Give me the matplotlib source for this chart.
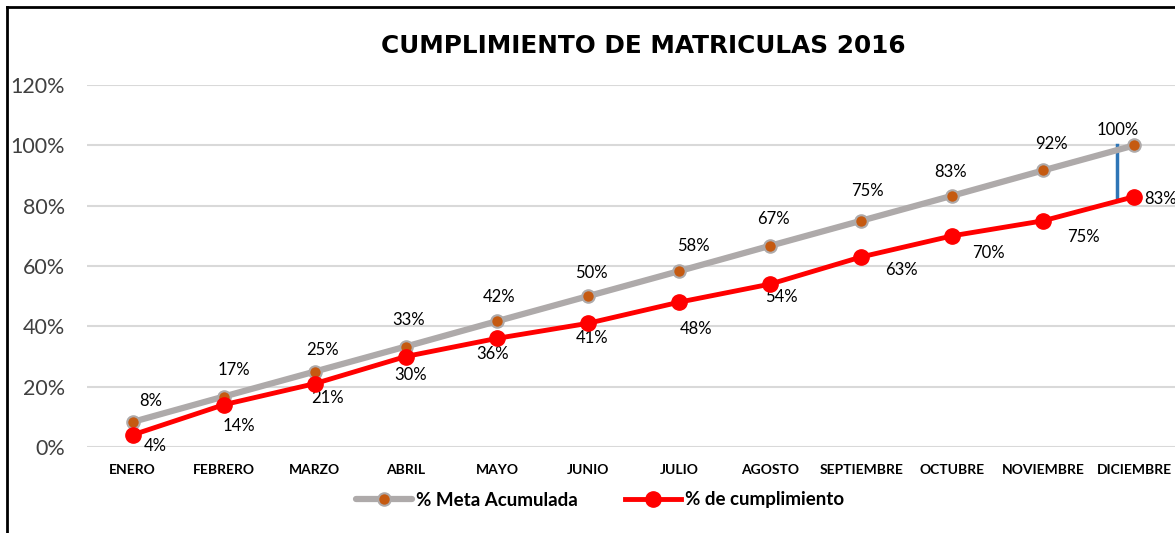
import matplotlib.pyplot as plt
from matplotlib.lines import Line2D

meses = ['ENERO', 'FEBRERO', 'MARZO', 'ABRIL', 'MAYO', 'JUNIO', 'JULIO',
         'AGOSTO', 'SEPTIEMBRE', 'OCTUBRE', 'NOVIEMBRE', 'DICIEMBRE']
meta_acumulada = [0.083, 0.167, 0.25, 0.333, 0.417, 0.50, 0.583, 0.667, 0.75, 0.833, 0.917, 1.00]
cumplimiento = [0.04, 0.14, 0.21, 0.30, 0.36, 0.41, 0.48, 0.54, 0.63, 0.70, 0.75, 0.83]
y_ticks = [0, 0.2, 0.4, 0.6, 0.8, 1.0, 1.2]

# label offsets in pixels (dx, dy), placed by hand like in the original sheet
meta_off = [(18, 21), (10, 27), (8, 22), (3, 27), (2, 24), (3, 23), (14, 25),
            (3, 27), (6, 30), (-2, 24), (8, 26), (-17, 15)]
cump_off = [(23, -11), (15, -21), (13, -14), (5, -18), (-4, -16), (4, -15), (17, -27),
            (11, -13), (40, -13), (36, -17), (40, -16), (26, -2)]

GRAY = '#AEAAAA'
BROWN = '#C55A11'
RED = '#FF0000'
LBL = 'Lato'

fig = plt.figure(figsize=(11.75, 5.33), dpi=100)
ax = fig.add_axes([87 / 1175, 86 / 533, (1180 - 87) / 1175, 362 / 533])

x = list(range(len(meses)))
ax.plot(x, meta_acumulada, color=GRAY, lw=4.5, marker='o', ms=9,
        mfc=BROWN, mec=GRAY, mew=1.5, label='% Meta Acumulada', zorder=3, solid_capstyle='round')
ax.plot(x, cumplimiento, color=RED, lw=3.5, marker='o', ms=11,
        mfc=RED, mec=RED, label='% de cumplimiento', zorder=4)

# blue drop line at december
ax.plot([10.81, 10.81], [cumplimiento[-1], meta_acumulada[-1]], color='#2E75B6', lw=2.5, zorder=2)

for i in x:
    dx, dy = meta_off[i]
    ax.annotate(f'{meta_acumulada[i]*100:.0f}%', (i, meta_acumulada[i]), xytext=(dx * 0.72, dy * 0.72),
                textcoords='offset points', ha='center', va='center', fontsize=12, family=LBL)
    dx, dy = cump_off[i]
    ax.annotate(f'{cumplimiento[i]*100:.0f}%', (i, cumplimiento[i]), xytext=(dx * 0.72, dy * 0.72),
                textcoords='offset points', ha='center', va='center', fontsize=12, family=LBL)

ax.set_xlim(-0.5, 11.5)
ax.set_ylim(0, 1.2)
ax.set_yticks(y_ticks)
ax.set_yticklabels([f'{v*100:.0f}%' for v in y_ticks], fontsize=15.5, family=LBL, color='#404040')
ax.set_xticks(x)
ax.set_xticklabels(meses, fontsize=10, fontweight='bold', family=LBL)
ax.tick_params(length=0, axis='y', pad=16)
ax.tick_params(length=0, axis='x', pad=12)
ax.grid(axis='y', color='#D9D9D9', lw=1.5)
ax.set_axisbelow(True)
for s in ax.spines.values():
    s.set_visible(False)

fig.text(643 / 1175, 1 - 46 / 533, 'CUMPLIMIENTO DE MATRICULAS 2016', ha='center', va='center',
         fontsize=17.8, fontweight='bold', family='DejaVu Sans')

leg = fig.legend(loc='center', bbox_to_anchor=(600 / 1175, 1 - 500 / 533), ncol=2, frameon=False,
                 prop={'family': LBL, 'weight': 'bold', 'size': 13.5}, handlelength=3.0, columnspacing=2.5,
                 handletextpad=0.2)

# chart border (left and top edges visible)
fig.add_artist(Line2D([7 / 1175, 7 / 1175], [0, 1 - 7 / 533], color='black', lw=2))
fig.add_artist(Line2D([7 / 1175, 1], [1 - 7 / 533, 1 - 7 / 533], color='black', lw=2))

fig.savefig('out.png', dpi=100)
